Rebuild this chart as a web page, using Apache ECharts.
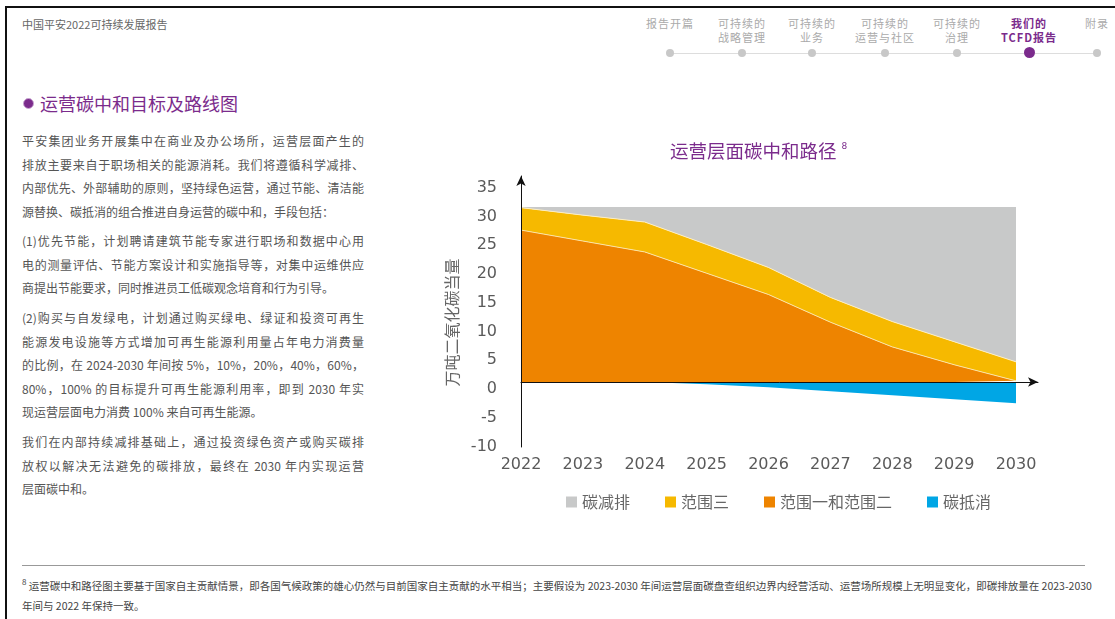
<!DOCTYPE html>
<html>
<head>
<meta charset="utf-8" />
<title>运营层面碳中和路径</title>
<style>
  html, body { margin: 0; padding: 0; background: #fff; }
  body { width: 1115px; height: 619px; position: relative; overflow: hidden;
         font-family: "Noto Sans CJK SC", "Noto Sans", sans-serif; color: #555; }
  .frame { position: absolute; left: 5px; top: 6px; right: -10px; bottom: -10px;
           border-top: 2px solid #111; border-left: 2px solid #111; }
  .doc-title { position: absolute; left: 22px; top: 16px; font-size: 11px; color: #666; }
  .nav-item { position: absolute; top: 16px; width: 90px; margin-left: -45px; text-align: center;
              font-size: 11px; line-height: 14px; color: #aaa; letter-spacing: 1px; }
  .nav-item.on { color: #7b2b8c; font-weight: bold; }
  .nav-line { position: absolute; left: 670px; top: 53px; width: 427px; height: 1px; background: #ddd; }
  .nav-dot { position: absolute; top: 49px; width: 8px; height: 8px; margin-left: -4px;
             border-radius: 50%; background: #c8c8c8; }
  .nav-dot.on { top: 47px; width: 11px; height: 11px; margin-left: -5.5px; background: #7b2b8c; }
  .sec-title { position: absolute; left: 23px; top: 90px; font-size: 18px; color: #7b2b8c; }
  .sec-title i { display: inline-block; width: 9px; height: 9px; border-radius: 50%;
                 background: #7b2b8c; border: 1px solid #c9a6d2; margin-right: 6px; vertical-align: 2px; }
  .para { position: absolute; left: 22px; width: 342px; font-size: 12px; line-height: 23.5px; color: #555; }
  .para div { text-align: justify; text-align-last: justify; white-space: nowrap; }
  .para div.last { text-align-last: left; }
  .foot-line { position: absolute; left: 22px; top: 565px; width: 1063px; height: 1px; background: #999; }
  .foot { position: absolute; left: 22px; top: 572px; width: 1063px; font-size: 10.5px; line-height: 20.5px; color: #444; }
  .foot div { text-align: justify; text-align-last: justify; white-space: nowrap; }
  .foot div.last { text-align-last: left; }
  #chart { position: absolute; left: 430px; top: 125px; width: 660px; height: 400px; }
</style>
</head>
<body>
  <div class="frame"></div>
  <div class="doc-title">中国平安2022可持续发展报告</div>

  <div class="nav-item" style="left:670px">报告开篇</div>
  <div class="nav-item" style="left:742px">可持续的<br>战略管理</div>
  <div class="nav-item" style="left:812px">可持续的<br>业务</div>
  <div class="nav-item" style="left:885px">可持续的<br>运营与社区</div>
  <div class="nav-item" style="left:957px">可持续的<br>治理</div>
  <div class="nav-item on" style="left:1029px">我们的<br>TCFD报告</div>
  <div class="nav-item" style="left:1097px">附录</div>
  <div class="nav-line"></div>
  <div class="nav-dot" style="left:670px"></div>
  <div class="nav-dot" style="left:742px"></div>
  <div class="nav-dot" style="left:812px"></div>
  <div class="nav-dot" style="left:885px"></div>
  <div class="nav-dot" style="left:957px"></div>
  <div class="nav-dot on" style="left:1029px"></div>
  <div class="nav-dot" style="left:1097px"></div>

  <div class="sec-title"><i></i>运营碳中和目标及路线图</div>

  <div class="para" style="top:129px">
    <div>平安集团业务开展集中在商业及办公场所，运营层面产生的</div>
    <div>排放主要来自于职场相关的能源消耗。我们将遵循科学减排、</div>
    <div>内部优先、外部辅助的原则，坚持绿色运营，通过节能、清洁能</div>
    <div class="last">源替换、碳抵消的组合推进自身运营的碳中和，手段包括：</div>
  </div>
  <div class="para" style="top:229px">
    <div>(1)优先节能，计划聘请建筑节能专家进行职场和数据中心用</div>
    <div>电的测量评估、节能方案设计和实施指导等，对集中运维供应</div>
    <div class="last">商提出节能要求，同时推进员工低碳观念培育和行为引导。</div>
  </div>
  <div class="para" style="top:306px">
    <div>(2)购买与自发绿电，计划通过购买绿电、绿证和投资可再生</div>
    <div>能源发电设施等方式增加可再生能源利用量占年电力消费量</div>
    <div>的比例，在 2024-2030 年间按 5%，10%，20%，40%，60%，</div>
    <div>80%，100% 的目标提升可再生能源利用率，即到 2030 年实</div>
    <div class="last">现运营层面电力消费 100% 来自可再生能源。</div>
  </div>
  <div class="para" style="top:430px">
    <div>我们在内部持续减排基础上，通过投资绿色资产或购买碳排</div>
    <div>放权以解决无法避免的碳排放，最终在 2030 年内实现运营</div>
    <div class="last">层面碳中和。</div>
  </div>

  <div id="chart"></div>

  <div class="foot-line"></div>
  <div class="foot">
    <div><sup style="font-size:8px">8</sup> 运营碳中和路径图主要基于国家自主贡献情景，即各国气候政策的雄心仍然与目前国家自主贡献的水平相当；主要假设为 2023-2030 年间运营层面碳盘查组织边界内经营活动、运营场所规模上无明显变化，即碳排放量在 2023-2030</div>
    <div class="last">年间与 2022 年保持一致。</div>
  </div>

<script src="https://cdn.jsdelivr.net/npm/echarts@6.0.0/dist/echarts.min.js"></script>
<script>
// 年份
var years = ['2022', '2023', '2024', '2025', '2026', '2027', '2028', '2029', '2030'];
// 各层厚度（万吨二氧化碳当量）
var scope12 = [26.4, 24.5, 22.6, 18.9, 15.2, 10.4, 6.1, 3.0, 0.2];   // 范围一和范围二
var scope3 = [3.9, 4.5, 5.2, 5.0, 4.7, 4.3, 4.4, 4.0, 3.3];          // 范围三
var reduction = [0.1, 1.4, 2.6, 6.5, 10.5, 15.7, 19.9, 23.4, 26.9];  // 碳减排
var offset = [0, 0, 0, -0.4, -0.9, -1.6, -2.3, -3.0, -3.7];           // 碳抵消
var yTicks = [-10, -5, 0, 5, 10, 15, 20, 25, 30, 35];
var legendNames = ['碳减排', '范围三', '范围一和范围二', '碳抵消'];

var yMin = -11.3, yMax = 35.8;
var _font = '"DejaVu Sans", "Noto Sans CJK SC", sans-serif';
var _cjk = '"Noto Sans CJK SC", sans-serif';

var myChart = echarts.init(document.getElementById('chart'));
var option = {
    animation: false,
    title: {
        text: '{a|运营层面碳中和路径}{s|8}',
        left: 235,
        top: 12,
        textStyle: {
            fontWeight: 'normal',
            rich: {
                a: { fontSize: 18.5, color: '#7b2b8c', fontFamily: _cjk, fontWeight: 'normal' },
                s: { fontSize: 9, color: '#7b2b8c', fontFamily: _font, fontWeight: 'normal', padding: [0, 0, 9, 5] }
            }
        }
    },
    legend: {
        data: legendNames,
        left: 131,
        top: 364,
        icon: 'rect',
        itemWidth: 11,
        itemHeight: 11,
        itemGap: 35,
        textStyle: { fontSize: 16, color: '#666', fontFamily: _cjk }
    },
    // 0: 数据区（到2030为止）; 1: 只用来画带箭头的横轴
    grid: [
        { left: 91, top: 51, width: 495, height: 271 },
        { left: 91, top: 51, width: 517, height: 271 }
    ],
    xAxis: [{
        type: 'category',
        gridIndex: 0,
        data: years,
        boundaryGap: false,
        axisLine: { show: false, onZero: false },
        axisTick: { show: false },
        splitLine: { show: false },
        axisLabel: { margin: 10, fontSize: 16, color: '#5a5a5a', fontFamily: _font }
    }, {
        type: 'value',
        gridIndex: 1,
        min: 0,
        max: 1,
        z: 10,
        axisLine: {
            show: true,
            onZero: true,
            symbol: ['none', 'arrow'],
            symbolSize: [7, 10],
            lineStyle: { color: '#111', width: 1 }
        },
        axisTick: { show: false },
        axisLabel: { show: false },
        splitLine: { show: false }
    }],
    yAxis: [{
        type: 'value',
        gridIndex: 0,
        min: yMin,
        max: yMax,
        interval: 5,
        z: 10,
        name: '万吨二氧化碳当量',
        nameLocation: 'middle',
        nameRotate: 90,
        nameGap: 58,
        nameTextStyle: { fontSize: 16, color: '#666', fontFamily: _cjk, padding: [0, 22, 0, 0] },
        axisLine: {
            show: true,
            onZero: false,
            symbol: ['none', 'arrow'],
            symbolSize: [7, 10],
            lineStyle: { color: '#111', width: 1 }
        },
        axisTick: { show: false },
        splitLine: { show: false },
        axisLabel: {
            customValues: yTicks,
            margin: 24,
            fontSize: 16,
            color: '#5a5a5a',
            fontFamily: _font,
            verticalAlign: 'top',
            lineHeight: 14,
            formatter: function (v) { return v % 5 === 0 ? String(v) : ''; }
        }
    }, {
        type: 'value',
        gridIndex: 1,
        min: yMin,
        max: yMax,
        show: false
    }],
    series: [{
        name: '范围一和范围二',
        type: 'line',
        stack: 'total',
        symbol: 'none',
        lineStyle: { width: 1, color: '#fbe3a6' },
        itemStyle: { color: '#ee8400' },
        areaStyle: { color: '#ee8400', opacity: 1 },
        data: scope12
    }, {
        name: '范围三',
        type: 'line',
        stack: 'total',
        symbol: 'none',
        lineStyle: { width: 1, color: '#fdeec0' },
        itemStyle: { color: '#f6b900' },
        areaStyle: { color: '#f6b900', opacity: 1 },
        data: scope3
    }, {
        name: '碳减排',
        type: 'line',
        stack: 'total',
        symbol: 'none',
        lineStyle: { width: 0 },
        itemStyle: { color: '#c8c9c9' },
        areaStyle: { color: '#c8c9c9', opacity: 1 },
        data: reduction
    }, {
        name: '碳抵消',
        type: 'line',
        symbol: 'none',
        lineStyle: { width: 0 },
        itemStyle: { color: '#00a6e5' },
        areaStyle: { color: '#00a6e5', opacity: 1 },
        data: offset
    }]
};
myChart.setOption(option);
</script>
</body>
</html>
